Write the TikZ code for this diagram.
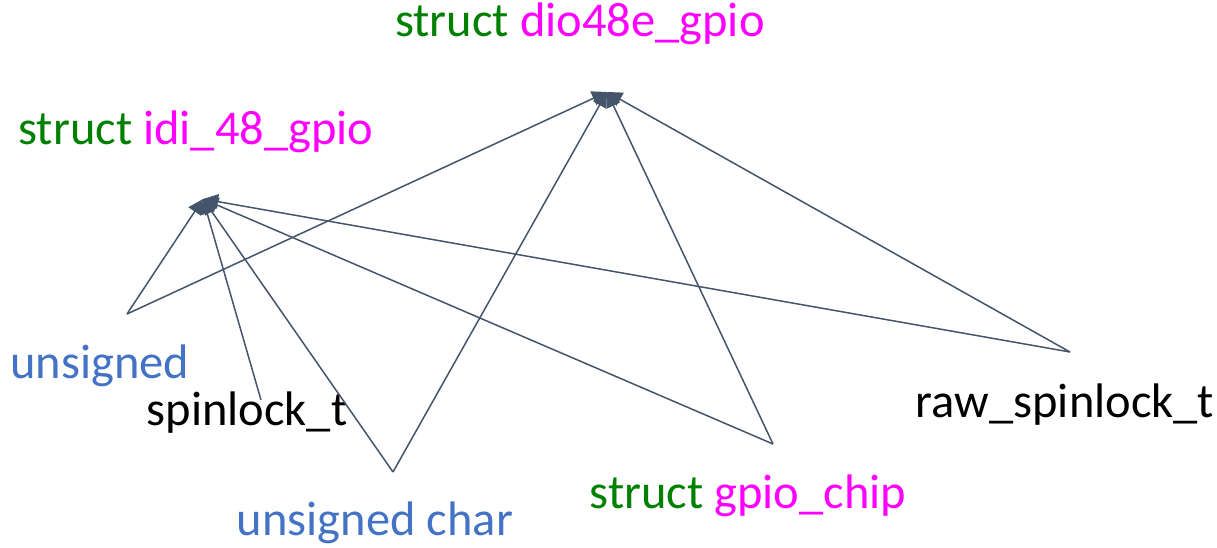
\documentclass[tikz,border=0pt]{standalone}
\usepackage{fontspec}
\setmainfont{Carlito}
\usetikzlibrary{arrows.meta}
\definecolor{kw}{RGB}{0,128,0}
\definecolor{tname}{RGB}{255,0,255}
\definecolor{basic}{RGB}{68,114,196}
\definecolor{edge}{RGB}{68,84,106}
\tikzset{
  lbl/.style={inner sep=0pt, font=\fontsize{48.5}{52}\selectfont},
  dep/.style={draw=edge, line width=1.5pt, -{Triangle[length=15pt,width=15pt]}}
}
\begin{document}
\begin{tikzpicture}[x=1pt,y=-1pt]
\useasboundingbox (0,0) rectangle (1217,548);
% labels
\node[lbl] (dio) at (580,24) {\textcolor{kw}{struct} \textcolor{tname}{dio48e\_gpio}};
\node[lbl] (idi) at (196,132) {\textcolor{kw}{struct} \textcolor{tname}{idi\_48\_gpio}};
\node[lbl, text=basic] (uns) at (100,366) {unsigned};
\node[lbl] (spin) at (247,413) {spinlock\_t};
\node[lbl] (raw) at (1065,405) {raw\_spinlock\_t};
\node[lbl] (chip) at (748,496) {\textcolor{kw}{struct} \textcolor{tname}{gpio\_chip}};
\node[lbl, text=basic] (uchar) at (375,523) {unsigned char};
% connector anchor points
\coordinate (dioT) at (607,92);
\coordinate (idiT) at (203,199);
\coordinate (unsP) at (127,314);
\coordinate (spinP) at (261,400);
\coordinate (ucharP) at (393,472);
\coordinate (chipP) at (773,444);
\coordinate (rawP) at (1070,352);
% dependencies
\draw[dep] (unsP) -- (dioT);
\draw[dep] (ucharP) -- (dioT);
\draw[dep] (chipP) -- (dioT);
\draw[dep] (rawP) -- (dioT);
\draw[dep] (unsP) -- (idiT);
\draw[dep] (spinP) -- (idiT);
\draw[dep] (ucharP) -- (idiT);
\draw[dep] (chipP) -- (idiT);
\draw[dep] (rawP) -- (idiT);
\end{tikzpicture}
\end{document}
